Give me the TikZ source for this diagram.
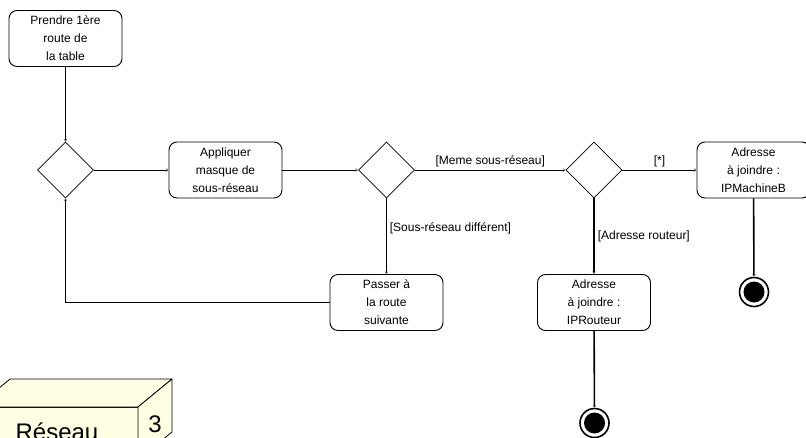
\documentclass[tikz,border=0pt]{standalone}
\usepackage{fontspec}
\setmainfont{Liberation Sans}
\usetikzlibrary{arrows.meta,shapes.geometric}
\definecolor{nodeyellow}{HTML}{FFFFE3}

\begin{document}
\begin{tikzpicture}[
  x=1pt,y=-1pt,
  font=\fontsize{12}{18}\selectfont,
  activity/.style={draw,rounded corners=8pt,line width=0.9pt,fill=white,
    minimum width=113pt,minimum height=56pt,align=center,inner sep=0pt},
  choice/.style={draw,diamond,line width=0.8pt,fill=white,
    minimum width=56pt,minimum height=56pt,inner sep=0pt},
  endstate/.style={circle,draw,line width=1.6pt,fill=white,minimum size=29pt,inner sep=0pt,
    path picture={\fill[black] (path picture bounding box.center) circle (10.5pt);}},
  flow/.style={-{Straight Barb[length=2pt,width=3pt,line width=0.6pt,color=black!60]},line width=0.8pt},
  heavyflow/.style={flow,line width=1.6pt},
  guard/.style={inner sep=3pt},
  cube/.style={fill=nodeyellow,draw,line width=0.8pt,line join=round}
]
  \clip (0,0) rectangle (806,437);

  % activity nodes
  \node[activity] (first) at (65.5,38.5) {Prendre 1ère\\route de\\la table};
  \node[choice] (loop) at (65.5,170) {};
  \node[activity] (mask) at (225.5,170) {Appliquer\\masque de\\sous-réseau};
  \node[choice] (same) at (386.5,170) {};
  \node[choice] (kind) at (594,170) {};
  \node[activity] (target) at (753.5,170) {Adresse\\à joindre :\\IPMachineB};
  \node[activity] (next) at (386.5,302.5) {Passer à\\la route\\suivante};
  \node[activity] (router) at (594,302.5) {Adresse\\à joindre :\\IPRouteur};
  \node[endstate] (endA) at (754,292) {};
  \node[endstate] (endB) at (594.5,423) {};

  % flows
  \draw[flow] (first) -- (loop);
  \draw[flow] (loop) -- (mask);
  \draw[flow] (mask) -- (same);
  \draw[flow] (same) -- node[guard,above]{[Meme sous-réseau]} (kind);
  \draw[flow] (kind) -- node[guard,above]{[*]} (target);
  \draw[flow] (same) -- node[guard,right,pos=0.4]{[Sous-réseau différent]} (next);
  \draw[heavyflow] (kind) -- node[guard,right]{[Adresse routeur]} (router);
  \draw[heavyflow] (target) -- (endA);
  \draw[heavyflow] (router) -- (endB);
  \draw[flow,line width=1.2pt] (next.west) -| (loop.south);

  % deployment node, cut by the border
  \draw[cube] (-24,407) rectangle (138,460);
  \draw[cube] (-24,407) -- (10,379) -- (172,379) -- (138,407) -- cycle;
  \draw[cube] (138,407) -- (172,379) -- (172,432) -- (138,460) -- cycle;
  \node[anchor=base,font=\fontsize{24}{28}\selectfont] (netname) at (57,440) {Réseau};
  \node[anchor=base,font=\fontsize{24}{28}\selectfont] (netnum) at (155,432) {3};
\end{tikzpicture}
\end{document}
